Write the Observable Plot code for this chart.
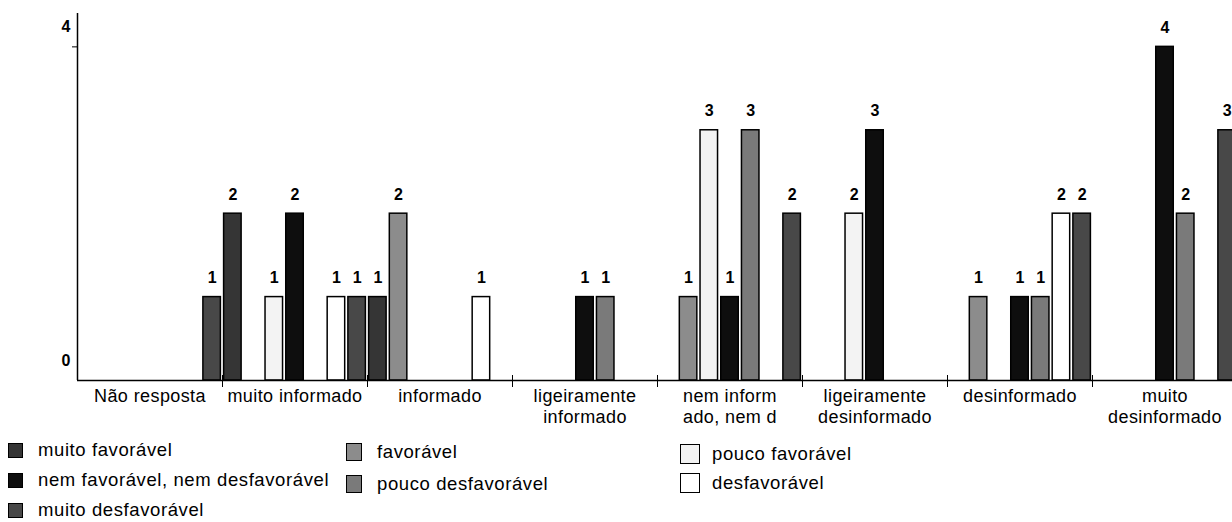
<!DOCTYPE html>
<html>
<head>
<meta charset="utf-8">
<script src="https://cdn.jsdelivr.net/npm/d3@7"></script>
<script src="https://cdn.jsdelivr.net/npm/@observablehq/plot@0.6"></script>
<style>
  html, body { margin: 0; padding: 0; background: #fff; overflow: hidden; }
  #wrap { position: relative; width: 1232px; height: 522px; font-family: "Liberation Sans", Arial, sans-serif; }
  #chart svg { display: block; overflow: visible; }
  #chart svg g[aria-label="x-axis tick label"] text { letter-spacing: 0.4px; }
  .lg { position: absolute; display: flex; align-items: center; font-size: 18.5px; letter-spacing: 0.6px; color: #000; white-space: nowrap; }
  .sw { box-sizing: border-box; border: 1.5px solid #000; }
</style>
</head>
<body>
<div id="wrap">
  <div id="chart"></div>
  <div id="legend"></div>
</div>
<script>
// ---- data ----
const categories = ["Não resposta", "muito informado", "informado", "ligeiramente informado",
  "nem informado, nem desinformado", "ligeiramente desinformado", "desinformado", "muito desinformado"];
const tickLabels = ["Não resposta", "muito informado", "informado", "ligeiramente\ninformado",
  "nem inform\nado, nem d", "ligeiramente\ndesinformado", "desinformado", "muito\ndesinformado"];
const series = ["muito favorável", "favorável", "pouco favorável", "nem favorável, nem desfavorável",
  "pouco desfavorável", "desfavorável", "muito desfavorável"];
const muitoFavoravel    = [0, 2, 1, 0, 0, 0, 0, 0];
const favoravel         = [0, 0, 2, 0, 1, 0, 1, 0];
const poucoFavoravel    = [0, 1, 0, 0, 3, 2, 0, 0];
const nemFavNemDesf     = [0, 2, 0, 1, 1, 3, 1, 4];
const poucoDesfavoravel = [0, 0, 0, 1, 3, 0, 1, 2];
const desfavoravel      = [0, 1, 1, 0, 0, 0, 2, 0];
const muitoDesfavoravel = [1, 1, 0, 0, 2, 0, 2, 3];
const yTicks = [0, 4];
const colors = ["#353535", "#8c8c8c", "#f3f3f3", "#0e0e0e", "#7a7a7a", "#ffffff", "#484848"];

// ---- table ----
const seriesValues = [muitoFavoravel, favoravel, poucoFavoravel, nemFavNemDesf,
  poucoDesfavoravel, desfavoravel, muitoDesfavoravel];
const nS = series.length;
const rows = [];
categories.forEach((c, i) => {
  seriesValues.forEach((vals, j) => {
    if (vals[i] > 0) rows.push({cat: c, series: series[j], slot: i * nS + j, value: vals[i]});
  });
});
const centers = categories.map((c, i) => i * nS + nS / 2);
const bounds = categories.slice(1).map((c, i) => (i + 1) * nS);

const W = 1232, H = 432;
const chart = Plot.plot({
  width: W,
  height: H,
  marginLeft: 77,
  marginRight: -5,
  marginTop: 13,
  marginBottom: H - 380,
  style: {fontFamily: "Liberation Sans, Arial, sans-serif", color: "#000", background: "transparent", overflow: "visible"},
  x: {domain: [0, categories.length * nS], axis: null},
  y: {domain: [0, 4.4], axis: null},
  color: {domain: series, range: colors},
  marks: [
    Plot.rectY(rows, {x1: "slot", x2: d => d.slot + 1, y: "value", fill: "series",
      stroke: "#000", strokeWidth: 1.5, insetLeft: 1.6, insetRight: 1.6}),
    Plot.text(rows, {x: d => d.slot + 0.5, y: "value", text: d => String(d.value),
      dy: -19, fontSize: 16, fontWeight: "bold", fill: "#000"}),
    Plot.ruleY([0], {stroke: "#000", strokeWidth: 1.5}),
    Plot.ruleX([0], {stroke: "#000", strokeWidth: 1.5}),
    Plot.axisY({ticks: yTicks, tickSize: 0, tickPadding: 7, dy: -20, fontSize: 16, fontWeight: "bold",
      tickFormat: d => String(d), label: null}),
    Plot.axisY({ticks: [4], tickSize: 5, tickFormat: () => "", label: null}),
    Plot.axisX({ticks: bounds, tickSize: 12, tickFormat: () => "", dy: -5, label: null}),
    Plot.axisX({ticks: centers, tickSize: 0, tickPadding: 7, fontSize: 18, lineHeight: 1.15,
      tickFormat: t => tickLabels[Math.floor(t / nS)], label: null})
  ]
});
document.getElementById("chart").appendChild(chart);

// ---- legend (below the svg) ----
const legendPos = [
  {left: 8,   sw: [15, 15], tx: 38,  cy: 450},
  {left: 346, sw: [16, 18], tx: 377, cy: 452},
  {left: 680, sw: [20, 20], tx: 712, cy: 454},
  {left: 8,   sw: [15, 15], tx: 38,  cy: 480},
  {left: 346, sw: [16, 18], tx: 377, cy: 484},
  {left: 680, sw: [20, 20], tx: 712, cy: 483},
  {left: 8,   sw: [15, 15], tx: 38,  cy: 510}
];
const legend = document.getElementById("legend");
series.forEach((s, j) => {
  const p = legendPos[j];
  const sw = document.createElement("div");
  sw.className = "sw";
  Object.assign(sw.style, {position: "absolute", left: p.left + "px", top: (p.cy - p.sw[1] / 2) + "px",
    width: p.sw[0] + "px", height: p.sw[1] + "px", background: colors[j]});
  legend.appendChild(sw);
  const t = document.createElement("div");
  t.className = "lg";
  t.textContent = s;
  Object.assign(t.style, {left: p.tx + "px", top: (p.cy - 10) + "px", height: "20px"});
  legend.appendChild(t);
});
</script>
</body>
</html>
